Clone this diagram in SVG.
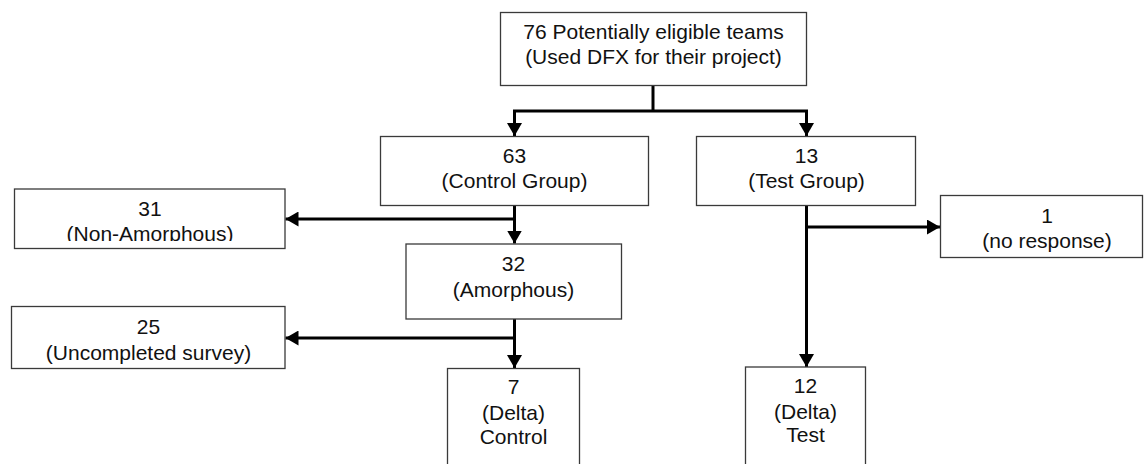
<svg xmlns="http://www.w3.org/2000/svg" width="1144" height="464" viewBox="0 0 1144 464">
<style>
.box{fill:#fff;stroke:#3a3a3a;stroke-width:1.3}
.t{font-family:"Liberation Sans",Arial,sans-serif;font-size:21px;fill:#111;text-anchor:middle}
.c{fill:none;stroke:#000;stroke-width:3}
</style>
<defs>
<marker id="ah" markerUnits="userSpaceOnUse" markerWidth="14" markerHeight="15" refX="13" refY="7.5" orient="auto">
<path d="M0,0 L13,7.5 L0,15 z" fill="#000"/>
</marker>
<clipPath id="clipNA"><rect x="14" y="189" width="271" height="52"/></clipPath>
</defs>
<rect width="1144" height="464" fill="#fff"/>
<g id="connectors">
<path class="c" d="M653,86 V111"/>
<path class="c" d="M653,111 H514.5 V136" marker-end="url(#ah)"/>
<path class="c" d="M653,111 H806.5 V136" marker-end="url(#ah)"/>
<path class="c" d="M514.5,205 V243.5" marker-end="url(#ah)"/>
<path class="c" d="M514.5,219 H285.5" marker-end="url(#ah)"/>
<path class="c" d="M514.5,319 V368" marker-end="url(#ah)"/>
<path class="c" d="M514.5,338 H285.5" marker-end="url(#ah)"/>
<path class="c" d="M806.5,205 V367" marker-end="url(#ah)"/>
<path class="c" d="M806.5,227 H940" marker-end="url(#ah)"/>
</g>
<g id="n76">
<rect class="box" x="500.5" y="12.5" width="306" height="73"/>
<text class="t" x="653.5" y="39">76 Potentially eligible teams</text>
<text class="t" x="653.5" y="63.5">(Used DFX for their project)</text>
</g>
<g id="n63">
<rect class="box" x="380.5" y="136.5" width="268" height="69"/>
<text class="t" x="514.5" y="163">63</text>
<text class="t" x="514.5" y="188">(Control Group)</text>
</g>
<g id="n13">
<rect class="box" x="696.5" y="136.5" width="219" height="69"/>
<text class="t" x="806.5" y="162.5">13</text>
<text class="t" x="806.5" y="187.5">(Test Group)</text>
</g>
<g id="n31">
<rect class="box" x="14.5" y="189" width="270.5" height="59.5"/>
<g clip-path="url(#clipNA)">
<text class="t" x="150" y="216">31</text>
<text class="t" x="150" y="240.5">(Non-Amorphous)</text>
</g>
</g>
<g id="n1">
<rect class="box" x="940.5" y="195.5" width="202" height="62"/>
<text class="t" x="1047" y="222.5">1</text>
<text class="t" x="1047" y="248">(no response)</text>
</g>
<g id="n32">
<rect class="box" x="406" y="244" width="215.5" height="75"/>
<text class="t" x="513.5" y="270.5">32</text>
<text class="t" x="513.5" y="296.5">(Amorphous)</text>
</g>
<g id="n25">
<rect class="box" x="11.5" y="306.5" width="273.5" height="62"/>
<text class="t" x="148.5" y="334">25</text>
<text class="t" x="148.5" y="359.5">(Uncompleted survey)</text>
</g>
<g id="n7">
<rect class="box" x="447.5" y="368.5" width="132" height="110"/>
<text class="t" x="513.5" y="394">7</text>
<text class="t" x="513.5" y="420">(Delta)</text>
<text class="t" x="513.5" y="444">Control</text>
</g>
<g id="n12">
<rect class="box" x="745.5" y="367" width="120" height="110"/>
<text class="t" x="805.5" y="392.5">12</text>
<text class="t" x="805.5" y="418.5">(Delta)</text>
<text class="t" x="805.5" y="442">Test</text>
</g>
</svg>
